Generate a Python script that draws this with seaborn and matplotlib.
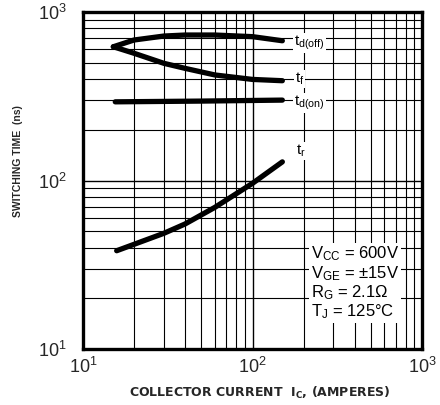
import matplotlib
matplotlib.use("Agg")
import matplotlib.pyplot as plt
import seaborn as sns
import pandas as pd
import numpy as np
from matplotlib.ticker import FixedLocator, FixedFormatter, LogLocator, NullFormatter

sns.set_style("white")
plt.rcParams["font.family"] = ["Liberation Sans", "DejaVu Sans"]
plt.rcParams["mathtext.fontset"] = "custom"
plt.rcParams["mathtext.rm"] = "Liberation Sans"
plt.rcParams["mathtext.it"] = "Liberation Sans"

# Switching time vs collector current (IGBT, Tj = 125 C)
td_off_ic = [15.1, 20, 30, 40, 60, 100, 150]
td_off_ns = [622, 682, 720, 730, 730, 714, 675]

tf_ic = [15.1, 20, 30, 40, 60, 100, 150]
tf_ns = [622, 569, 496, 463, 423, 398, 391]

td_on_ic = [15.5, 50, 150]
td_on_ns = [293, 296, 300]

tr_ic = [15.8, 20, 30, 40, 60, 100, 150]
tr_ns = [38.3, 41.8, 48.6, 55.2, 69.3, 96.2, 129]

tick_vals = [10, 100, 1000]
tick_labels = [r"$\mathregular{10^{1}}$", r"$\mathregular{10^{2}}$", r"$\mathregular{10^{3}}$"]

curve_names = [r"$\mathregular{t_{d(off)}}$", r"$\mathregular{t_{f}}$",
               r"$\mathregular{t_{d(on)}}$", r"$\mathregular{t_{r}}$"]
curve_label_pos = [(176, 655), (178, 400), (176, 288), (180, 150)]

conditions = [r"$\mathregular{V_{CC}}$ = 600V", r"$\mathregular{V_{GE}}$ = ±15V",
              r"$\mathregular{R_{G}}$ = 2.1Ω", r"$\mathregular{T_{J}}$ = 125°C"]

frames = []
for name, xs, ys in [("td_off", td_off_ic, td_off_ns), ("tf", tf_ic, tf_ns),
                     ("td_on", td_on_ic, td_on_ns), ("tr", tr_ic, tr_ns)]:
    frames.append(pd.DataFrame({"ic": xs, "t": ys, "curve": name}))
df = pd.concat(frames, ignore_index=True)

fig = plt.figure(figsize=(4.4, 4.05), dpi=100)
ax = fig.add_axes([83 / 440, 1 - 349 / 405, 339 / 440, 337 / 405])
ax.set_xscale("log")
ax.set_yscale("log")

for name in ["td_off", "tf", "td_on", "tr"]:
    sns.lineplot(data=df[df.curve == name], x="ic", y="t", ax=ax, color="black",
                 linewidth=3.8, solid_capstyle="round", solid_joinstyle="round",
                 estimator=None, sort=True, legend=False)

ax.set_xlim(10, 1000)
ax.set_ylim(10, 1000)

for a in (ax.xaxis, ax.yaxis):
    a.set_major_locator(FixedLocator(tick_vals))
    a.set_major_formatter(FixedFormatter(tick_labels))
    a.set_minor_locator(LogLocator(base=10, subs=np.arange(2, 10)))
    a.set_minor_formatter(NullFormatter())

ax.grid(True, which="major", color="black", linewidth=1.0)
ax.grid(True, which="minor", color="black", linewidth=0.8)
ax.set_axisbelow(True)
ax.tick_params(which="both", length=0)
ax.tick_params(axis="x", pad=6, labelsize=13)
ax.tick_params(axis="y", pad=12, labelsize=13)

for s in ax.spines.values():
    s.set_color("black")
    s.set_linewidth(2.4)

ax.set_xlabel("")
ax.set_ylabel("")

for txt, (x, y) in zip(curve_names, curve_label_pos):
    ax.text(x, y, txt, fontsize=11, va="center", ha="left", color="black",
            bbox=dict(facecolor="white", edgecolor="none", pad=0.5))

ax.text(311 / 440, 1 - 283 / 405, "\n".join(conditions), transform=fig.transFigure,
        fontsize=12, va="center", ha="left", linespacing=1.05, color="black",
        bbox=dict(facecolor="white", edgecolor="none", pad=1.5))

fig.text(18 / 440, 1 - 161 / 405, "SWITCHING TIME  (ns)", rotation=90, fontsize=7.5,
         fontweight="bold", ha="center", va="center")
fig.text(260 / 440, 1 - 393 / 405, r"COLLECTOR CURRENT  I$\mathregular{_C}$, (AMPERES)",
         fontsize=9, fontweight="bold", ha="center", va="center",
         family=["DejaVu Sans"])

fig.savefig("out.png", dpi=100, facecolor="white")
